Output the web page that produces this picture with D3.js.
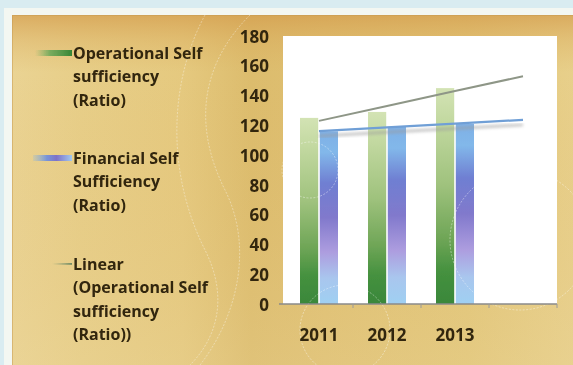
<!DOCTYPE html>
<html>
<head>
<meta charset="utf-8">
<script src="https://cdn.jsdelivr.net/npm/d3@7/dist/d3.min.js"></script>
<style>
  html, body { margin: 0; padding: 0; background: #d9ecf1; }
  svg { display: block; }
  text { font-family: "Open Sans", Lato, sans-serif; font-weight: 700; fill: #30250f; }
</style>
</head>
<body>
<svg id="chart" width="573" height="365"></svg>
<script>
// ---- data ----
const categories = ["2011", "2012", "2013", ""];
const seriesKeys = ["operational", "financial"];
const operational = [125, 129, 145];
const financial = [116, 119, 121];
const yTicks = [0, 20, 40, 60, 80, 100, 120, 140, 160, 180];
const legendOperational = ["Operational Self", "sufficiency", "(Ratio)"];
const legendFinancial = ["Financial Self", "Sufficiency", "(Ratio)"];
const legendLinear = ["Linear", "(Operational Self", "sufficiency", "(Ratio))"];

const FONT = "'Open Sans', Lato, sans-serif";
const svg = d3.select("#chart");
const defs = svg.append("defs");

// ---- gradients ----
function linGrad(id, x1, y1, x2, y2, stops) {
  const g = defs.append("linearGradient").attr("id", id)
    .attr("x1", x1).attr("y1", y1).attr("x2", x2).attr("y2", y2);
  stops.forEach(s => g.append("stop").attr("offset", s[0]).attr("stop-color", s[1])
    .attr("stop-opacity", s[2] === undefined ? 1 : s[2]));
}
linGrad("goldH", 0, 0, 1, 0, [
  [0, "#ead393"], [0.12, "#e7ce88"], [0.3, "#e5c97f"], [0.42, "#dcbc6d"],
  [0.55, "#dfc072"], [0.8, "#e2c679"], [1, "#e8d08c"]]);
linGrad("goldTop", 0, 0, 0, 1, [
  [0, "#d49c4c", 0.7], [0.07, "#d8a656", 0.35], [0.16, "#dcb060", 0], [1, "#ecd8a0", 0.25]]);
linGrad("greenBar", 0, 0, 0, 1, [
  [0, "#d3e3b4"], [0.15, "#c3d9a1"], [0.45, "#9fc27d"], [0.7, "#6ea556"], [0.85, "#45913f"], [1, "#3a873a"]]);
linGrad("blueBar", 0, 0, 0, 1, [
  [0, "#7fb0e6"], [0.12, "#82b8ea"], [0.3, "#6f7fd2"], [0.5, "#8179cc"], [0.7, "#ad9ddf"], [0.85, "#a9c6ee"], [1, "#9fd0f2"]]);
linGrad("greenSwatch", 0, 0, 1, 0, [
  [0, "#6fae62", 0], [0.4, "#5fa455", 0.8], [1, "#358535"]]);
linGrad("blueSwatch", 0, 0, 1, 0, [
  [0, "#7fb3e8", 0.2], [0.35, "#6d8fe0", 0.9], [0.6, "#7d72c8"], [1, "#a1c9ef"]]);
linGrad("lineSwatch", 0, 0, 1, 0, [
  [0, "#8fa07a", 0], [1, "#6f8a62"]]);

defs.append("filter").attr("id", "soft")
  .append("feGaussianBlur").attr("stdDeviation", 0.45);
defs.append("filter").attr("id", "shadow")
  .append("feGaussianBlur").attr("stdDeviation", 1.6);

// ---- page frame ----
svg.append("rect").attr("x", 0).attr("y", 0).attr("width", 573).attr("height", 365).attr("fill", "#d9ecf1");
svg.append("rect").attr("x", 4).attr("y", 8).attr("width", 580).attr("height", 370).attr("fill", "#f3f7f2");
svg.append("rect").attr("x", 12).attr("y", 15).attr("width", 570).attr("height", 360).attr("fill", "url(#goldH)");
svg.append("rect").attr("x", 12).attr("y", 15).attr("width", 570).attr("height", 360).attr("fill", "url(#goldTop)");
svg.append("rect").attr("x", 12.5).attr("y", 15.5).attr("width", 570).attr("height", 360)
  .attr("fill", "none").attr("stroke", "#c59a52").attr("stroke-opacity", 0.5);

// ---- faint ornamental swirls on the backdrop ----
const orn = svg.append("g").attr("fill", "none").attr("stroke", "#ffffff")
  .attr("stroke-opacity", 0.45).attr("stroke-width", 0.8).attr("stroke-dasharray", "2,1.5");
orn.append("path").attr("d", "M250,15 C205,60 190,120 225,190 C255,250 235,320 200,365");
orn.append("path").attr("d", "M205,15 C170,80 165,170 205,250 C230,300 215,340 190,365");

// ---- scales ----
const x0 = d3.scaleBand().domain(categories).range([285, 557]).paddingInner(0).paddingOuter(0);
const x1 = d3.scaleBand().domain(seriesKeys)
  .range([x0.bandwidth() / 2 - 19, x0.bandwidth() / 2 + 19]).paddingInner(0.08);
const y = d3.scaleLinear().domain([0, 180]).range([304, 36]);

// plot area
svg.append("rect").attr("x", 283).attr("y", y(180)).attr("width", 557 - 283).attr("height", y(0) - y(180))
  .attr("fill", "#ffffff");

// gridlines
svg.append("g").selectAll("line").data(yTicks.filter(t => t > 0 && t < 180)).join("line")
  .attr("x1", 283).attr("x2", 557)
  .attr("y1", d => y(d)).attr("y2", d => y(d))
  .attr("stroke", "#8c8c8c").attr("stroke-width", 1.6).attr("filter", "url(#soft)");

// ---- bars ----
const rows = categories.slice(0, operational.length).map((c, i) => ({
  cat: c, operational: operational[i], financial: financial[i]
}));
const fills = { operational: "url(#greenBar)", financial: "url(#blueBar)" };
const barG = svg.append("g").attr("filter", "url(#soft)");
rows.forEach(r => {
  seriesKeys.forEach(k => {
    barG.append("rect")
      .attr("x", x0(r.cat) + x1(k))
      .attr("y", y(r[k]))
      .attr("width", x1.bandwidth())
      .attr("height", y(0) - y(r[k]))
      .attr("fill", fills[k]);
  });
});

// ---- linear trend lines (least squares, one period forecast) ----
function trend(values) {
  const xs = values.map((_, i) => i + 1);
  const mx = d3.mean(xs), my = d3.mean(values);
  const slope = d3.sum(xs.map((xv, i) => (xv - mx) * (values[i] - my))) / d3.sum(xs.map(xv => (xv - mx) ** 2));
  const icpt = my - slope * mx;
  return categories.map((c, i) => ({ cat: c, v: icpt + slope * (i + 1) }));
}
const line = d3.line().x(d => x0(d.cat) + x0.bandwidth() / 2).y(d => y(d.v));
const finTrend = trend(financial);
svg.append("path").datum(finTrend).attr("d", line)
  .attr("transform", "translate(0,5)")
  .attr("fill", "none").attr("stroke", "#9a9a9a").attr("stroke-width", 3).attr("stroke-opacity", 0.55)
  .attr("filter", "url(#shadow)");
svg.append("path").datum(finTrend).attr("d", line)
  .attr("fill", "none").attr("stroke", "#6f9fd6").attr("stroke-width", 2.2).attr("filter", "url(#soft)");
svg.append("path").datum(trend(operational)).attr("d", line)
  .attr("fill", "none").attr("stroke", "#8e9687").attr("stroke-width", 2).attr("filter", "url(#soft)");

// ---- plot-area ornaments (faint) ----
const orn2 = svg.append("g").attr("fill", "none").attr("stroke", "#ffffff")
  .attr("stroke-opacity", 0.5).attr("stroke-width", 0.8).attr("stroke-dasharray", "2,1.5");
orn2.append("circle").attr("cx", 345).attr("cy", 330).attr("r", 45);
orn2.append("circle").attr("cx", 520).attr("cy", 240).attr("r", 70);
orn2.append("circle").attr("cx", 310).attr("cy", 170).attr("r", 28);

// ---- axes ----
const yAxis = svg.append("g").attr("transform", "translate(269,0)")
  .call(d3.axisLeft(y).tickValues(yTicks).tickSize(0).tickPadding(0));
yAxis.select(".domain").remove();
yAxis.selectAll("text").attr("font-size", 17).attr("dy", "0.36em")
  .style("font-family", FONT).style("font-weight", 700).attr("fill", "#30250f")
  .attr("filter", "url(#soft)");

const xAxis = svg.append("g").attr("transform", `translate(0,${y(0)})`)
  .call(d3.axisBottom(x0).tickSize(0).tickPadding(25));
xAxis.select(".domain").attr("stroke", "#8a8a8a").attr("stroke-width", 1.6)
  .attr("d", `M279,0H557`);
xAxis.selectAll("text").attr("font-size", 17)
  .style("font-family", FONT).style("font-weight", 700).attr("fill", "#30250f")
  .attr("filter", "url(#soft)");
// small category separators under the axis
svg.append("g").selectAll("line").data(categories).join("line")
  .attr("x1", d => x0(d) + x0.bandwidth()).attr("x2", d => x0(d) + x0.bandwidth())
  .attr("y1", y(0)).attr("y2", y(0) + 4)
  .attr("stroke", "#9a9a9a").attr("stroke-width", 1);

// ---- legend ----
const legend = svg.append("g").attr("filter", "url(#soft)");
const lineGap = 23.4;
const entries = [
  { lines: legendOperational, top: 53, kind: "bar", fill: "url(#greenSwatch)", sx: 35 },
  { lines: legendFinancial, top: 158, kind: "bar", fill: "url(#blueSwatch)", sx: 33 },
  { lines: legendLinear, top: 264, kind: "line", fill: "url(#lineSwatch)", sx: 52 }
];
entries.forEach(e => {
  if (e.kind === "bar") {
    legend.append("rect").attr("x", e.sx).attr("y", e.top - 3).attr("width", 72 - e.sx).attr("height", 6)
      .attr("fill", e.fill);
  } else {
    legend.append("rect").attr("x", e.sx).attr("y", e.top - 1).attr("width", 72 - e.sx).attr("height", 1.8)
      .attr("fill", e.fill);
  }
  e.lines.forEach((t, i) => {
    legend.append("text").attr("x", 73).attr("y", e.top + i * lineGap).attr("dy", "0.36em")
      .attr("font-size", 16).style("font-family", FONT).text(t);
  });
});
</script>
</body>
</html>
